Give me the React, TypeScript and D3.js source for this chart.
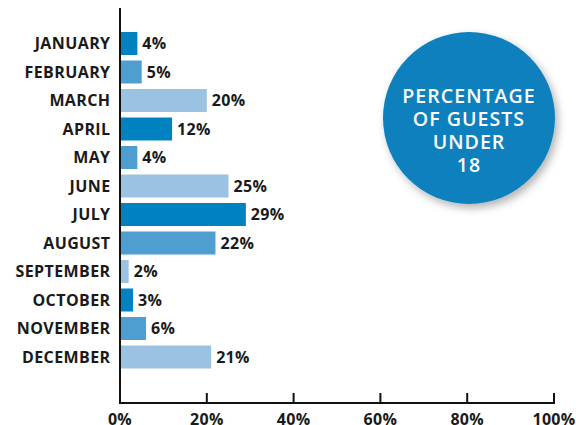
import React from "react";
import * as d3 from "d3";

const months = ["JANUARY","FEBRUARY","MARCH","APRIL","MAY","JUNE","JULY","AUGUST","SEPTEMBER","OCTOBER","NOVEMBER","DECEMBER"];
const values = [4,5,20,12,4,25,29,22,2,3,6,21];
const ticks = [0,20,40,60,80,100];
const palette = ["#0081c0","#4e9fd0","#9bc2e2"];
const titleLines = ["PERCENTAGE","OF GUESTS","UNDER","18"];

const W = 576, H = 425;
const FONT = "'Open Sans', Lato, sans-serif";

export default function App() {
  const x = d3.scaleLinear().domain([0, 100]).range([120, 554]);
  const y = d3.scaleBand<string>().domain(months).range([29.25, 371.25]).paddingInner(0.193).paddingOuter(0.0965);
  const axisY = 403;
  return (
    <svg width={W} height={H} style={{ position: "absolute", left: 0, top: 0 }}>
      <defs>
        <filter id="sh" x="-30%" y="-30%" width="160%" height="160%">
          <feDropShadow dx="3" dy="4" stdDeviation="4" floodColor="#000" floodOpacity="0.3" />
        </filter>
      </defs>
      <rect width={W} height={H} fill="#fff" />
      {months.map((m, i) => (
        <g key={m}>
          <rect x={x(0)} y={y(m)!} width={x(values[i]) - x(0)} height={y.bandwidth()} fill={palette[i % 3]} />
          <text x={110.5} y={y(m)! + y.bandwidth() / 2} dy="0.36em" textAnchor="end" fontFamily={FONT} fontWeight={700} fontSize={16} letterSpacing={0.4} fill="#1a1a1a">{m}</text>
          <text x={x(values[i]) + 5} y={y(m)! + y.bandwidth() / 2} dy="0.36em" textAnchor="start" fontFamily={FONT} fontWeight={700} fontSize={16} letterSpacing={0.3} fill="#1a1a1a">{values[i]}%</text>
        </g>
      ))}
      <line x1={x(0)} x2={x(0)} y1={8} y2={axisY + 1} stroke="#111" strokeWidth={2} />
      <line x1={x(0) - 1} x2={x(100) + 1} y1={axisY} y2={axisY} stroke="#111" strokeWidth={2} />
      {ticks.map(t => (
        <g key={t}>
          <line x1={x(t)} x2={x(t)} y1={axisY - 10} y2={axisY} stroke="#111" strokeWidth={2} />
          <text x={x(t)} y={424.5} textAnchor="middle" fontFamily={FONT} fontWeight={700} fontSize={16} letterSpacing={0.3} fill="#1a1a1a">{t}%</text>
        </g>
      ))}
      <circle cx={469} cy={118} r={86} fill="#0a80bd" filter="url(#sh)" />
      {titleLines.map((l, i) => (
        <text key={i} x={469} y={103.3 + i * 22.8} textAnchor="middle" fontFamily={FONT} fontWeight={600} fontSize={19.6} letterSpacing={1} fill="#fff">{l}</text>
      ))}
    </svg>
  );
}
